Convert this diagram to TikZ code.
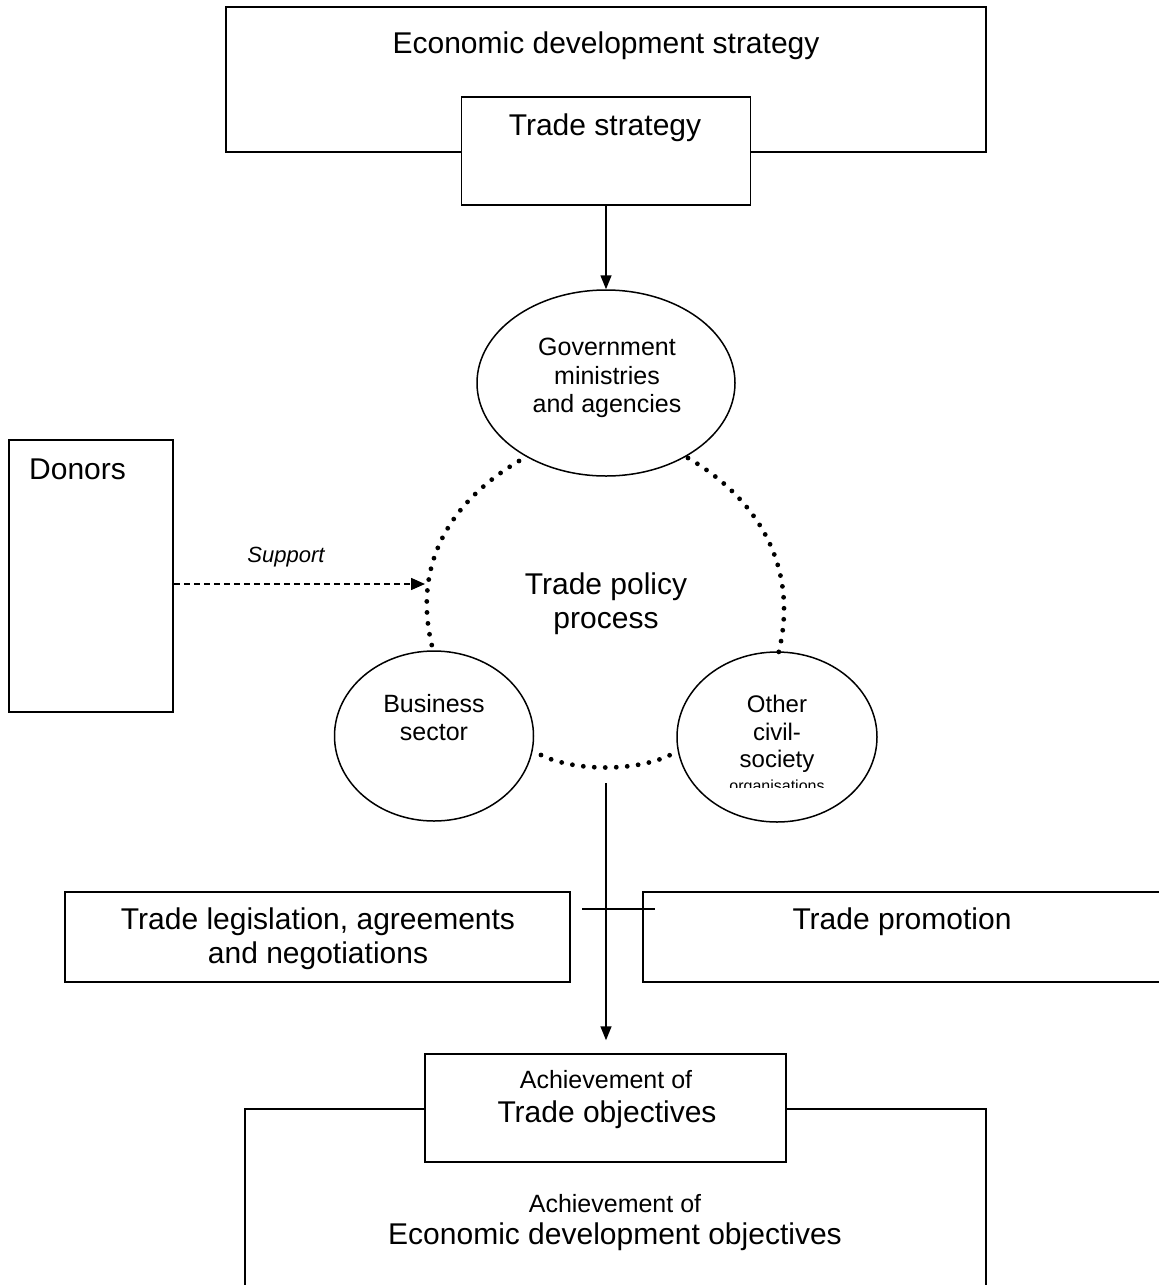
\documentclass[tikz,border=0pt]{standalone}
\usepackage{fontspec}
\setmainfont{Liberation Sans}
\usetikzlibrary{shapes.geometric,arrows.meta}
\newcommand\szL{\fontsize{30}{34}\selectfont}
\newcommand\szM{\fontsize{25}{28.5}\selectfont}
\newcommand\szO{\fontsize{24}{28}\selectfont}
\newcommand\szS{\fontsize{22}{26}\selectfont}
\newcommand\szT{\fontsize{16}{19}\selectfont}
\begin{document}
\begin{tikzpicture}[x=1pt,y=-1pt,
  box/.style={draw, line width=1.5pt, rectangle, inner sep=0pt, fill=white},
  oval/.style={draw, line width=1.5pt, ellipse, inner sep=0pt},
  txt/.style={anchor=base, inner sep=0pt},
  link/.style={line width=1.5pt, -{Triangle[length=14pt,width=11pt]}},
  dashlink/.style={line width=1.5pt, dash pattern=on 6pt off 4pt, -{Triangle[length=14pt,width=12pt]}},
  dots/.style={line width=4.8pt, line cap=round, dash pattern=on 0pt off 11pt},
  thin/.style={line width=1.5pt}
  ]
\clip (0,0) rectangle (1159,1285);
\fill[white] (0,0) rectangle (1159,1285);

% top boxes
\node[box, minimum width=760pt, minimum height=145pt] (eds) at (606,79.5) {};
\node[box, minimum width=289pt, minimum height=108pt] (ts) at (606,151) {};
\node[txt] (edst) at (606,53) {\szL Economic development strategy};
\node[txt] (tst) at (605,135) {\szL Trade strategy};

% donors
\node[box, minimum width=164pt, minimum height=272pt] (donors) at (91,576) {};
\node[txt, anchor=base west] (donorst) at (29,479) {\szL Donors};
\node[txt] (supt) at (286,562) {\szS\itshape Support};

% dotted arcs
\coordinate (supp) at (425,584);
\draw[dots] (519,461) .. controls (445,505) and (412,570) .. (433,650);
\draw[dots] (688,458) .. controls (760,500) and (800,570) .. (778,655);
\draw[dots] (541,755) .. controls (575,772) and (640,772) .. (674,753);

% ellipses
\node[oval, minimum width=258pt, minimum height=186pt] (gov) at (606,383) {};
\node[oval, minimum width=199pt, minimum height=170pt] (bus) at (434,736) {};
\node[oval, minimum width=200pt, minimum height=170pt] (oth) at (777,737) {};

\node[txt] (gov1) at (607,355) {\szM Government};
\node[txt] (gov2) at (607,384) {\szM ministries};
\node[txt] (gov3) at (607,412) {\szM and agencies};

\node[txt] (tpp1) at (606,594) {\szL Trade policy};
\node[txt] (tpp2) at (606,628) {\szL process};

\node[txt] (bus1) at (434,712) {\szM Business};
\node[txt] (bus2) at (434,740) {\szM sector};

\node[txt] (oth1) at (777,712) {\szO Other};
\node[txt] (oth2) at (777,740) {\szO civil-};
\node[txt] (oth3) at (777,767) {\szO society};
\begin{scope}
\clip (677,770) rectangle (877,787);
\node[txt] (oth4) at (777,791) {\szT organisations};
\end{scope}

% middle boxes
\node[box, minimum width=505pt, minimum height=90pt] (tl) at (317.5,937) {};
\node[box, minimum width=532pt, minimum height=90pt] (tpr) at (909,937) {};
\node[txt] (tl1) at (318,929) {\szL Trade legislation, agreements};
\node[txt] (tl2) at (318,963) {\szL and negotiations};
\node[txt] (tprt) at (902,929) {\szL Trade promotion};

% bottom boxes
\node[box, minimum width=741pt, minimum height=291pt] (edo) at (615.5,1254.5) {};
\node[box, minimum width=361pt, minimum height=108pt] (tobj) at (605.5,1108) {};
\node[txt] (tobj1) at (606,1088) {\szM Achievement of};
\node[txt] (tobj2) at (607,1122) {\szL Trade objectives};
\node[txt] (edo1) at (615,1212) {\szM Achievement of};
\node[txt] (edo2) at (615,1244) {\szL Economic development objectives};

% connectors
\draw[link] (ts.south) -- (gov.north);
\draw[dashlink] (donors.east |- supp) -- (supp);
\coordinate (pp) at (606,783);
\draw[link, shorten >=13pt] (pp) -- (pp |- tobj.north);
\coordinate (cl) at (582,909);
\coordinate (cr) at (655,909);
\draw[thin] (cl) -- (cr);
\end{tikzpicture}
\end{document}
